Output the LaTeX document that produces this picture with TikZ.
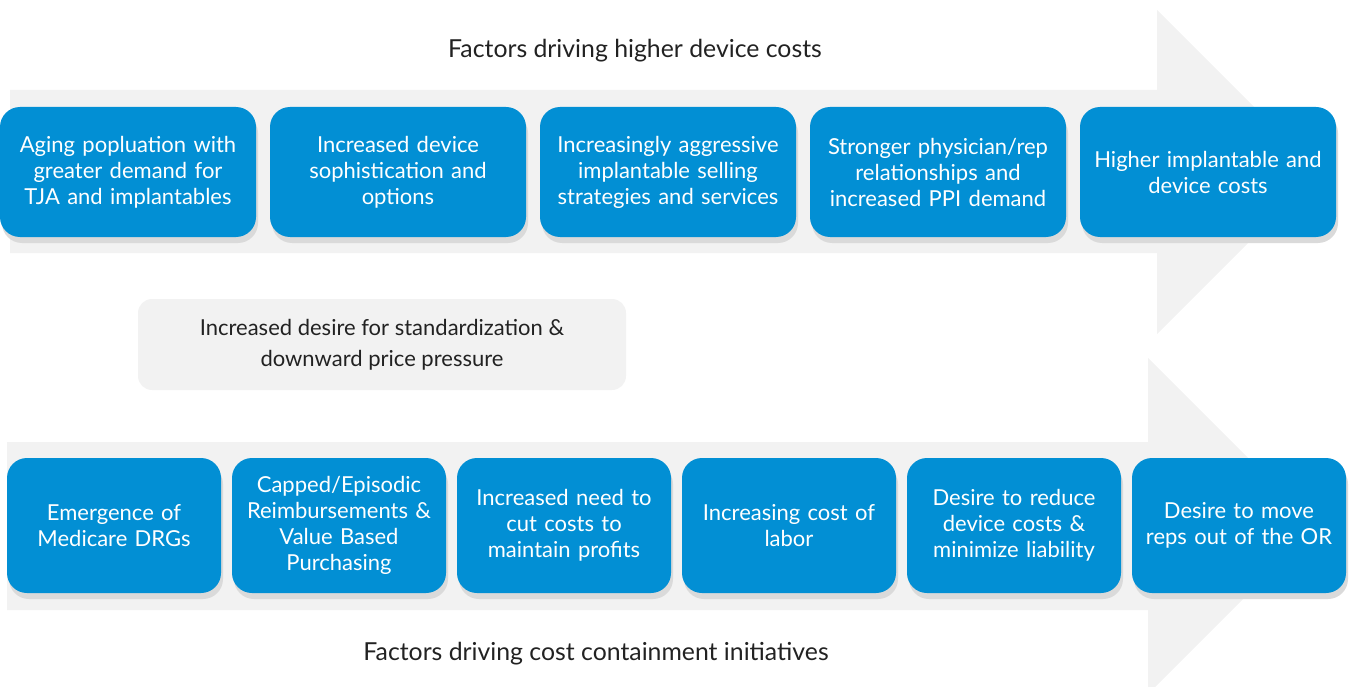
\documentclass[tikz,border=0pt]{standalone}
\usepackage{fontspec}
\setmainfont{Lato}
\usetikzlibrary{positioning}
\usetikzlibrary{shadows}

\definecolor{boxblue}{RGB}{2,143,212}
\definecolor{arrowgray}{RGB}{242,242,242}
\definecolor{shadowgray}{RGB}{218,218,218}
\definecolor{textdark}{RGB}{34,34,34}

\tikzset{
	costbox/.style={rounded corners=20pt, fill=boxblue, text=white, align=center,
			minimum width=256pt, minimum height=130pt, text width=240pt, inner sep=0pt, outer sep=0pt,
			font=\fontsize{22}{26}\selectfont,
			drop shadow={shadow xshift=2pt, shadow yshift=-6pt, fill=shadowgray, opacity=1}},
	initbox/.style={costbox, minimum width=214pt, minimum height=135pt, text width=204pt},
	title/.style={text=textdark, font=\fontsize{24.8}{28}\selectfont}
}

\begin{document}
\begin{tikzpicture}[x=1pt, y=-1pt]
	\useasboundingbox (0,0) rectangle (1349,687);
	\clip (0,0) rectangle (1349,687);

	% background arrows
	\fill[arrowgray] (10,90) -- (1157,90) -- (1157,10) -- (1319,172) -- (1157,334) -- (1157,253) -- (10,253) -- cycle;
	\fill[arrowgray] (7,442) -- (1148,442) -- (1148,358) -- (1316,526) -- (1148,694) -- (1148,610) -- (7,610) -- cycle;

	\node[title] (costTitle) at (635, 50.5) {Factors driving higher device costs};
	\node[title] (initTitle) at (596, 653.5) {Factors driving cost containment initiatives};

	% top row
	\node[costbox] (cost1) at (128, 172) {Aging popluation with\\ greater demand for\\ TJA and implantables};
	\node[costbox, right=14pt of cost1] (cost2) {Increased device\\ sophistication and\\ options};
	\node[costbox, right=14pt of cost2] (cost3) {Increasingly aggressive\\ implantable selling\\ strategies and services};
	\node[costbox, right=14pt of cost3] (cost4) {Stronger physician/rep\\ relationships and\\ increased PPI demand};
	\node[costbox, right=14pt of cost4] (cost5) {Higher implantable and\\ device costs};

	\node[rounded corners=14pt, fill=arrowgray, text=textdark, align=center,
		minimum width=488pt, minimum height=91pt, inner sep=0pt,
		font=\fontsize{22}{31}\selectfont] (pressure) at (382, 344.5)
		{Increased desire for standardization \&\\ downward price pressure};

	% bottom row
	\node[initbox] (init1) at (114, 525.5) {Emergence of\\ Medicare DRGs};
	\node[initbox, right=11pt of init1] (init2) {Capped/Episodic\\ Reimbursements \&\\ Value Based\\ Purchasing};
	\node[initbox, right=11pt of init2] (init3) {Increased need to\\ cut costs to\\ maintain profits};
	\node[initbox, right=11pt of init3] (init4) {Increasing cost of\\ labor};
	\node[initbox, right=11pt of init4] (init5) {Desire to reduce\\ device costs \&\\ minimize liability};
	\node[initbox, right=11pt of init5] (init6) {Desire to move\\ reps out of the OR};
\end{tikzpicture}
\end{document}
